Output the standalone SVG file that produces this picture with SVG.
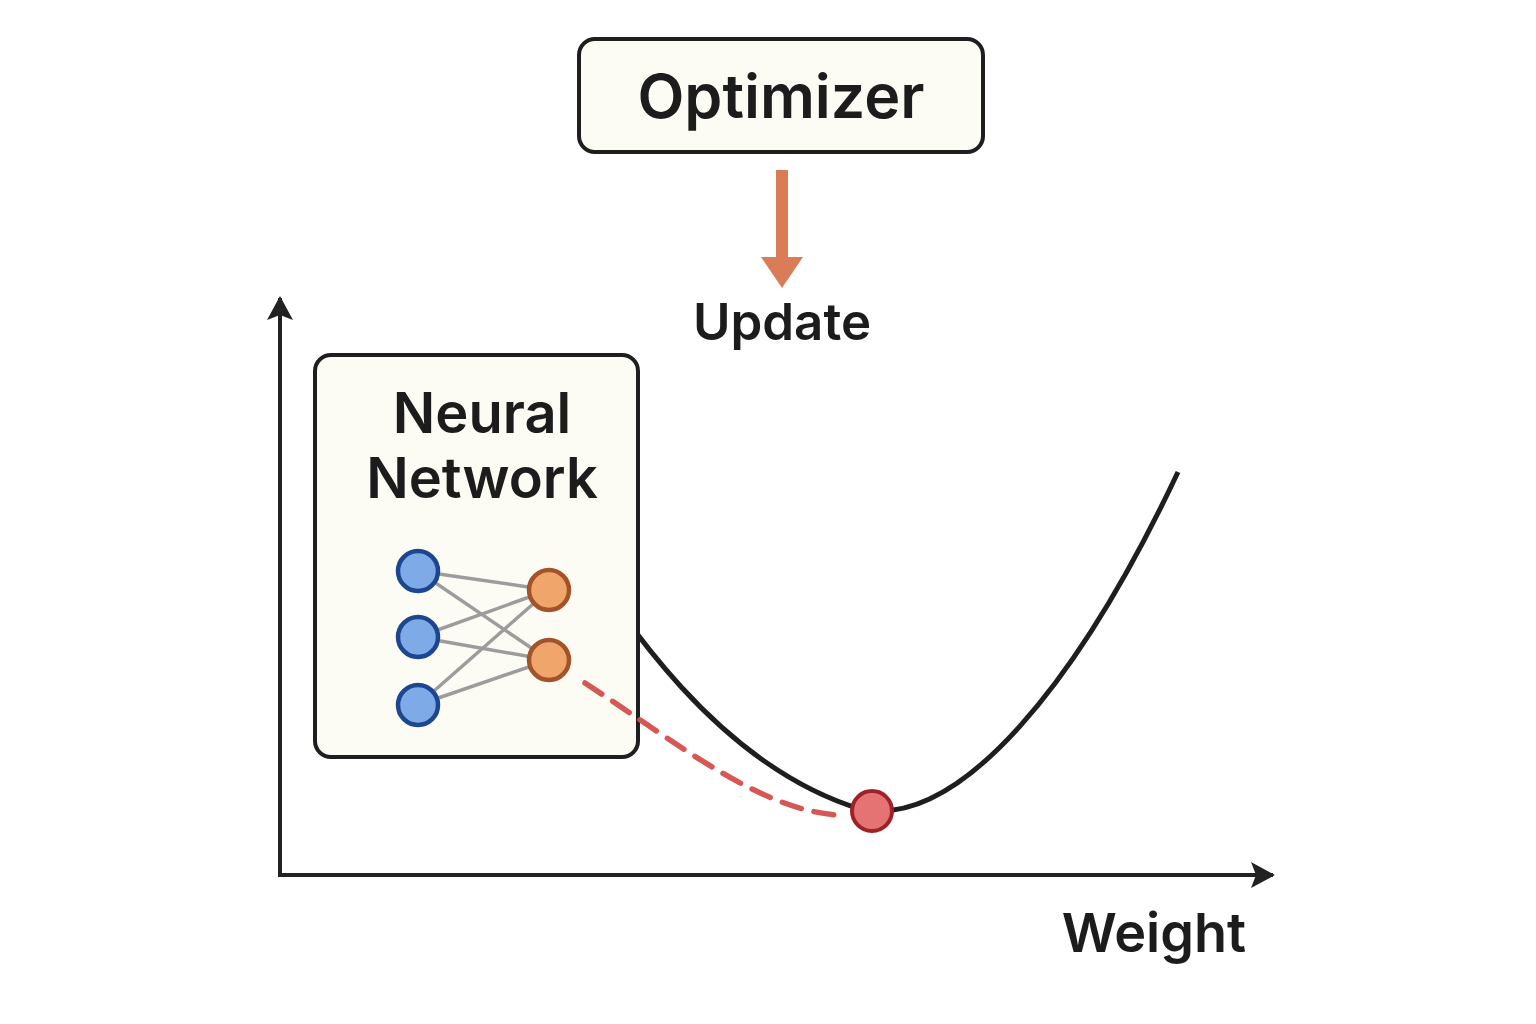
<svg xmlns="http://www.w3.org/2000/svg" width="1536" height="1024" viewBox="0 0 1536 1024">
<style>
.lbl{font-family:Inter,"Liberation Sans",sans-serif;font-weight:600;fill:#1c1c1c;text-anchor:middle}
.box{fill:#fdfcf4;stroke:#1e1e1e;stroke-width:4}
.in{fill:#7eabe8;stroke:#1d4690;stroke-width:4.5}
.out{fill:#f0a66a;stroke:#a35329;stroke-width:4.5}
.w{stroke:#9c9c9c;stroke-width:3.5}
.ax{stroke:#222;stroke-width:4;fill:none}
</style>
<defs>
<marker id="ah" viewBox="0 0 24 26" refX="22" refY="13" markerWidth="24" markerHeight="26" orient="auto-start-reverse" markerUnits="userSpaceOnUse">
<path d="M0,0 L24,13 L0,26 L5,13 Z" fill="#222"/>
</marker>
</defs>
<rect width="1536" height="1024" fill="#fff"/>
<g id="axes">
<path class="ax" d="M280,875 L280,298" marker-end="url(#ah)"/>
<path class="ax" d="M278,875 L1273,875" marker-end="url(#ah)"/>
<text class="lbl" x="1154" y="952" font-size="54">Weight</text>
</g>
<g id="curve">
<path d="M560,520 C600,580 700,760 860,809 C960,830 1080,680 1178,472" fill="none" stroke="#1e1e1e" stroke-width="5"/>
</g>
<g id="optimizer">
<rect class="box" x="579" y="39" width="404" height="113" rx="16"/>
<text class="lbl" x="781" y="118" font-size="61">Optimizer</text>
</g>
<g id="update">
<text class="lbl" x="782" y="340" font-size="51">Update</text>
</g>
<g id="neural-network">
<rect class="box" x="315" y="355" width="323" height="402" rx="16"/>
<text class="lbl" x="482" y="433" font-size="56">Neural</text>
<text class="lbl" x="482" y="498" font-size="56">Network</text>
<g id="weights">
<line class="w" x1="418" y1="571" x2="549" y2="590"/>
<line class="w" x1="418" y1="571" x2="549" y2="660"/>
<line class="w" x1="418" y1="637" x2="549" y2="590"/>
<line class="w" x1="418" y1="637" x2="549" y2="660"/>
<line class="w" x1="418" y1="705" x2="549" y2="590"/>
<line class="w" x1="418" y1="705" x2="549" y2="660"/>
</g>
<circle class="in" cx="418" cy="571" r="20"/>
<circle class="in" cx="418" cy="637" r="20"/>
<circle class="in" cx="418" cy="705" r="20"/>
<circle class="out" cx="549" cy="590" r="20"/>
<circle class="out" cx="549" cy="660" r="20"/>
</g>
<g id="connectors">
<rect x="776" y="170" width="12" height="90" fill="#d97c57"/>
<path d="M761,257 L803,257 L782,288 Z" fill="#d97c57"/>
<path d="M585,683 C680,745 760,810 838,815" fill="none" stroke="#d44e4a" stroke-width="5.5" stroke-dasharray="20 13" stroke-linecap="round" opacity="0.95"/>
</g>
<g id="minimum">
<circle cx="872" cy="811" r="20" fill="#e57373" stroke="#9e2228" stroke-width="4"/>
</g>
</svg>
